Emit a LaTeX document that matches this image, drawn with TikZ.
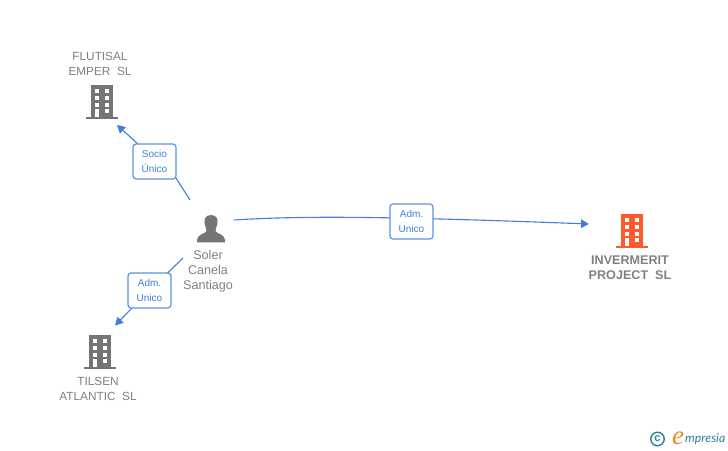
\documentclass[tikz,border=0pt]{standalone}
\usepackage{fontspec}
\setmainfont{Liberation Sans}
\newfontfamily\logofont{Lato}
\newfontfamily\logoscript{Liberation Serif}
\usetikzlibrary{arrows.meta}
\definecolor{linkblue}{HTML}{3E7FDD}
\definecolor{labelgray}{HTML}{808080}
\definecolor{icongray}{HTML}{757575}
\definecolor{hot}{HTML}{FF5A2B}
\definecolor{logoteal}{HTML}{2F7F95}
\definecolor{logoorange}{HTML}{F08A1D}
\tikzset{
  x=1pt,y=-1pt,
  firmlabel/.style={text=labelgray,font=\fontsize{11.8}{15}\selectfont,align=center,inner sep=0pt},
  personlabel/.style={firmlabel,font=\fontsize{12.6}{15}\selectfont},
  hotlabel/.style={firmlabel,font=\fontsize{12.6}{15}\selectfont\bfseries},
  rolebox/.style={draw=linkblue!85,line width=1.2pt,rounded corners=3pt,fill=white,text=linkblue,
    font=\fontsize{10}{14.6}\selectfont,align=center,inner sep=0pt,minimum width=43pt,minimum height=35pt},
  link/.style={draw=linkblue,line width=1.1pt},
  linkarrow/.style={link,-{Triangle[length=8pt,width=8.5pt]}},
  anchorbox/.style={inner sep=0pt,minimum width=32pt,minimum height=34pt},
  pics/building/.style={code={
    \fill[#1] (5,0) rectangle (27,32);
    \fill[#1] (0,31.5) rectangle (32,34);
    \foreach \yy in {4.3,11,17.7}{
      \fill[white] (9,\yy) rectangle (13.3,\yy+4);
      \fill[white] (18.7,\yy) rectangle (23.3,\yy+4);
    }
    \fill[white] (18.7,24) rectangle (23.3,28);
    \fill[white] (9,24) rectangle (13,32);
  }}
}
\begin{document}
\begin{tikzpicture}
\useasboundingbox (0,0) rectangle (728,450);
% icons
\pic at (86,85) {building=icongray};
\pic at (84,335) {building=icongray};
\pic at (616,214) {building=hot};
\node[anchorbox] (flutisal) at (102,102) {};
\node[anchorbox] (tilsen) at (100,352) {};
\node[anchorbox] (invermerit) at (632,231) {};
% person
\node[anchorbox] (soler) at (211,228) {};
\fill[icongray] (211,215) .. controls (204.5,215) and (204,220) .. (204.7,224)
  .. controls (205.2,227) and (206.5,228.5) .. (206.5,231)
  .. controls (205,234) and (197.5,234) .. (197,240) -- (197,242.3) -- (225,242.3) -- (225,240)
  .. controls (224.5,234) and (217,234) .. (215.5,231)
  .. controls (215.5,228.5) and (216.8,227) .. (217.3,224)
  .. controls (218,220) and (217.5,215) .. (211,215) -- cycle;
% names
\node[firmlabel] (flutisalname) at (100,63.5) {FLUTISAL\\EMPER\ \ SL};
\node[firmlabel] (tilsenname) at (98,388.5) {TILSEN\\ATLANTIC\ \ SL};
\node[personlabel] (solername) at (208,271.7) {Soler\\Canela\\Santiago};
\node[hotlabel] (invermeritname) at (630,268) {INVERMERIT\\PROJECT\ \ SL};
% connector ends
\coordinate (a1) at (190,200);
\coordinate (a2) at (117,125);
\coordinate (b1) at (183,258);
\coordinate (b2) at (115,325.5);
\coordinate (c1) at (234,220);
\coordinate (c2) at (589,224);
\coordinate (ab) at (154.5,161.5);
\coordinate (bb) at (149.5,290.5);
% connectors
\draw[link] (a1) -- (176,178);
\draw[linkarrow] (138,144) -- (a2);
\draw[link] (b1) -- (167,273.5);
\draw[linkarrow] (132.5,307.5) -- (b2);
\draw[linkarrow] (c1) .. controls (300,215.8) and (380,216) .. (c2);
% labels
\node[rolebox] (lab1) at (ab) {Socio\\Único};
\node[rolebox] (lab2) at (bb) {Adm.\\Unico};
\node[rolebox] (lab3) at (411.5,221.5) {Adm.\\Unico};
% logo
\node[draw=logoteal,line width=1.4pt,circle,minimum size=13.5pt,inner sep=0pt,text=logoteal,font=\fontsize{11}{11}\selectfont\bfseries] (copy) at (657.5,439) {c};
\node[text=logoorange,font=\logoscript\fontsize{27}{27}\selectfont\itshape,inner sep=0pt] (logoe) at (678,438) {e};
\node[text=logoteal,font=\logofont\fontsize{12.3}{13}\selectfont\itshape,inner sep=0pt,anchor=west] (logotext) at (685,439) {mpresia};
\end{tikzpicture}
\end{document}
